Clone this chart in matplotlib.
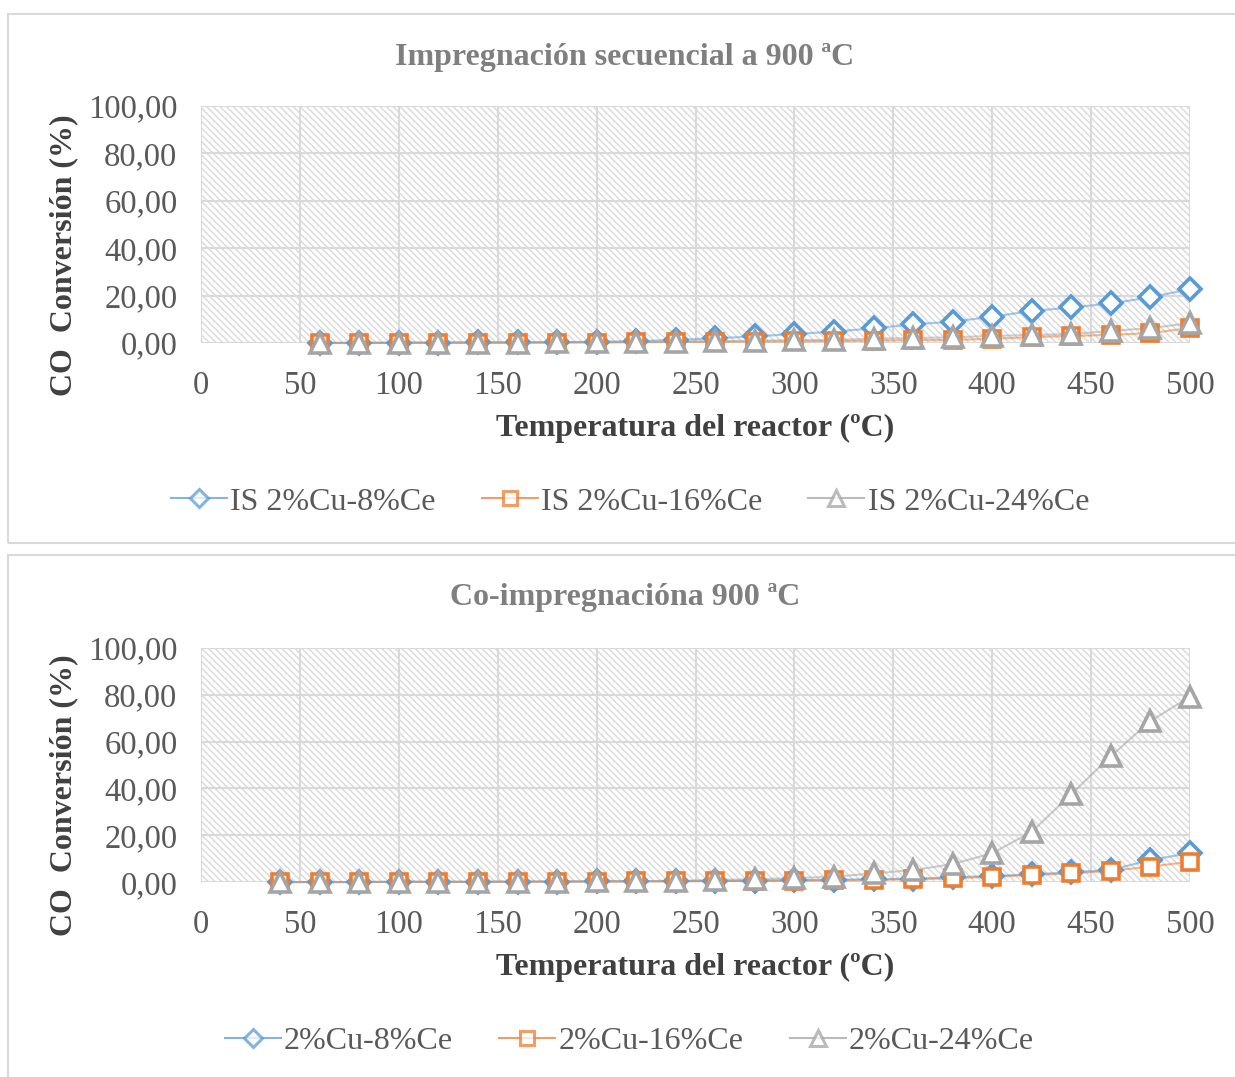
import matplotlib.pyplot as plt
from matplotlib.patches import Rectangle

plt.rcParams['font.family'] = ['Liberation Serif', 'DejaVu Serif']
plt.rcParams['hatch.color'] = '#dcdcdc'
plt.rcParams['hatch.linewidth'] = 1.1

# Impregnacion secuencial (60 - 500 C)
temp_is = [60, 80, 100, 120, 140, 160, 180, 200, 220, 240, 260, 280,
           300, 320, 340, 360, 380, 400, 420, 440, 460, 480, 500]
is_8ce = [0.1, 0.1, 0.2, 0.2, 0.3, 0.3, 0.4, 0.5, 0.8, 1.3, 2.0, 2.8,
          3.8, 4.8, 6.2, 7.9, 9.0, 11.1, 13.5, 15.0, 16.7, 19.3, 22.8]
is_16ce = [0.0, 0.0, 0.0, 0.1, 0.1, 0.1, 0.2, 0.2, 0.3, 0.4, 0.5, 0.6,
           0.7, 0.8, 1.0, 1.2, 1.3, 1.8, 2.5, 3.0, 3.4, 4.2, 6.3]
is_24ce = [0.0, 0.0, 0.1, 0.1, 0.1, 0.2, 0.3, 0.4, 0.5, 0.6, 0.8, 1.0,
           1.2, 1.3, 1.8, 2.1, 2.4, 3.0, 3.4, 3.8, 5.1, 6.3, 8.4]

# Co-impregnacion (40 - 500 C)
temp_co = [40, 60, 80, 100, 120, 140, 160, 180, 200, 220, 240, 260, 280,
           300, 320, 340, 360, 380, 400, 420, 440, 460, 480, 500]
co_8ce = [0.0, 0.0, 0.0, 0.1, 0.1, 0.1, 0.2, 0.2, 0.3, 0.3, 0.4, 0.5, 0.6,
          0.8, 1.0, 1.2, 1.5, 2.0, 2.6, 3.3, 4.2, 5.2, 9.4, 12.4]
co_16ce = [0.0, 0.0, 0.0, 0.1, 0.1, 0.1, 0.1, 0.2, 0.2, 0.3, 0.3, 0.4, 0.5,
           0.6, 0.7, 0.9, 1.2, 1.6, 2.3, 3.0, 3.7, 4.8, 6.6, 8.7]
co_24ce = [0.0, 0.0, 0.0, 0.1, 0.1, 0.1, 0.2, 0.2, 0.3, 0.4, 0.5, 0.9, 1.2,
           1.7, 2.3, 3.7, 5.1, 7.7, 12.3, 21.5, 37.6, 53.8, 68.8, 79.2]

xticks = list(range(0, 501, 50))
yticks = [0, 20, 40, 60, 80, 100]
ytick_labels = ['0,00', '20,00', '40,00', '60,00', '80,00', '100,00']

colors = ['#5b9bd5', '#ed7d31', '#a5a5a5']
markers = ['D', 's', '^']
msizes = [11, 12, 14]

fig = plt.figure(figsize=(12.35, 10.77), dpi=100)

# marcos de cada grafico
fig.patches.append(Rectangle((0.0065, 0.4958), 1.1, 0.4912, transform=fig.transFigure,
                             fill=False, edgecolor='#d9d9d9', lw=1.5))
fig.patches.append(Rectangle((0.0065, -0.1), 1.1, 0.5847, transform=fig.transFigure,
                             fill=False, edgecolor='#d9d9d9', lw=1.5))


def panel(rect, title, temps, series, labels, title_y, legend_x, legend_y):
    ax = fig.add_axes(rect)
    ax.add_patch(Rectangle((0, 0), 1, 1, transform=ax.transAxes, facecolor='white',
                           hatch='\\\\\\\\\\', edgecolor='#dcdcdc', lw=0, zorder=0))
    handles = []
    for vals, c, m, ms, lab in zip(series, colors, markers, msizes, labels):
        ax.plot(temps, vals, '-', color=c, lw=1.5, alpha=0.55, zorder=3, clip_on=False)
        ax.plot(temps, vals, linestyle='none', marker=m, ms=ms, mfc='white',
                mec=c, mew=2.6, zorder=4, clip_on=False)
        h, = ax.plot([], [], '-', color=c, lw=1.5, alpha=0.75, marker=m, ms=ms * 0.85,
                     mfc='white', mec=c, mew=2.2)
        handles.append(h)
    ax.set_xlim(0, 500)
    ax.set_ylim(0, 100)
    ax.set_xticks(xticks)
    ax.set_yticks(yticks)
    ax.set_yticklabels(ytick_labels)
    ax.tick_params(length=0, labelsize=23.5, labelcolor='#595959')
    ax.tick_params(axis='y', pad=17)
    ax.tick_params(axis='x', pad=20)
    ax.grid(True, color='#d9d9d9', lw=1.5, zorder=1)
    ax.set_axisbelow(True)
    for s in ax.spines.values():
        s.set_visible(False)
    ax.set_xlabel('Temperatura del reactor (ºC)', fontsize=23, fontweight='bold',
                  color='#404040', labelpad=9)
    ax.set_ylabel('CO  Conversión (%)', fontsize=23, fontweight='bold',
                  color='#404040')
    ax.yaxis.set_label_coords(-0.124, 0.372)
    fig.text(0.506, title_y, title, ha='center', va='center', fontsize=23,
             fontweight='bold', color='#7f7f7f')
    fig.legend(handles=handles, labels=labels, loc='center',
               bbox_to_anchor=(legend_x, legend_y), ncol=3, frameon=False,
               fontsize=23, labelcolor='#595959', handlelength=1.75,
               handletextpad=0.1, columnspacing=1.45)
    return ax


panel([0.1628, 0.6815, 0.8008, 0.2201], 'Impregnación secuencial a 900 ªC',
      temp_is, [is_8ce, is_16ce, is_24ce],
      ['IS 2%Cu-8%Ce', 'IS 2%Cu-16%Ce', 'IS 2%Cu-24%Ce'], 0.947, 0.510, 0.534)
panel([0.1628, 0.181, 0.8008, 0.2173], 'Co-impregnacióna 900 ªC',
      temp_co, [co_8ce, co_16ce, co_24ce],
      ['2%Cu-8%Ce', '2%Cu-16%Ce', '2%Cu-24%Ce'], 0.445, 0.5095, 0.033)

fig.savefig('out.png', dpi=100)
